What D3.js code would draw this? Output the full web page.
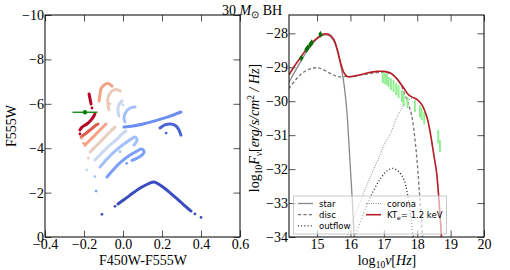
<!DOCTYPE html>
<html>
<head>
<meta charset="utf-8">
<script src="https://cdn.jsdelivr.net/npm/d3@7"></script>
<style>
  body { margin: 0; background: #fff; }
  text { font-family: "Liberation Serif", serif; fill: #000; }
  .leg text { font-family: "DejaVu Sans", sans-serif; }
</style>
</head>
<body>
<svg id="fig" width="510" height="270"></svg>
<script>
// ---- left panel: colour-magnitude tracks, [F450W-F555W, F555W]
const darkRedA = [[-0.174,-6.44],[-0.169,-6.22],[-0.164,-5.99]];
const darkRedB = [[-0.144,-5.54],[-0.159,-5.32],[-0.185,-5.09],[-0.210,-4.95],[-0.221,-4.82]];
const redLower = [[-0.215,-4.50],[-0.195,-4.64],[-0.169,-4.82],[-0.144,-5.00],[-0.128,-5.09]];
const orangeUpper = [[-0.056,-6.80],[-0.077,-6.91],[-0.097,-6.85],[-0.113,-6.67],[-0.118,-6.40],[-0.123,-6.13]];
const orangeLower = [[-0.195,-4.14],[-0.169,-4.37],[-0.138,-4.64],[-0.108,-4.91],[-0.087,-5.09]];
const peachUpper = [[-0.015,-6.58],[-0.036,-6.64],[-0.062,-6.53],[-0.077,-6.26],[-0.077,-5.95],[-0.072,-5.72]];
const peachLower = [[-0.169,-3.83],[-0.138,-4.10],[-0.103,-4.41],[-0.067,-4.73],[-0.041,-4.95]];
const paleUpper = [[-0.005,-6.13],[-0.021,-5.95],[-0.026,-5.72],[-0.021,-5.45]];
const paleLower = [[-0.144,-3.47],[-0.113,-3.74],[-0.072,-4.10],[-0.031,-4.41],[0.000,-4.68],[0.015,-4.77]];
const lightUpper = [[0.062,-5.86],[0.036,-5.81],[0.015,-5.63],[0.005,-5.36],[0.010,-5.18]];
const lightLower = [[-0.118,-3.15],[-0.087,-3.47],[-0.041,-3.87],[0.005,-4.19],[0.041,-4.41],[0.062,-4.50],[0.072,-4.37],[0.056,-4.14]];
const blueLower = [[-0.082,-2.70],[-0.051,-3.02],[-0.010,-3.38],[0.036,-3.69],[0.072,-3.87],[0.097,-3.96],[0.108,-3.83],[0.092,-3.65],[0.062,-3.51],[0.046,-3.45]];
const blueLong = [[0.005,-4.95],[0.051,-5.00],[0.103,-5.09],[0.164,-5.23],[0.231,-5.41],[0.297,-5.63]];
const navyHook = [[0.190,-4.91],[0.215,-5.05],[0.246,-5.09],[0.272,-5.00],[0.287,-4.82],[0.297,-4.59]];
const navyArch = [[-0.026,-1.49],[0.010,-1.71],[0.051,-1.98],[0.097,-2.25],[0.138,-2.43],[0.159,-2.48],[0.190,-2.34],[0.231,-2.07],[0.272,-1.76],[0.313,-1.44],[0.349,-1.17]];

// stray points and the track group each belongs to
const strayDots = [[-0.108,-1.02],[-0.041,-1.38],[0.369,-1.04],[0.400,-0.88],[-0.138,-2.07],[-0.144,-2.72],
  [-0.186,-3.02],[-0.178,-3.55],[-0.203,-4.22],[-0.212,-4.45],[0.221,-4.68],[0.097,-5.07],[-0.015,-3.84],
  [0.019,-3.32],[-0.159,-5.81],[-0.067,-6.00],[-0.221,-4.64],[0.000,-5.95]];
const strayGroup = [11,11,11,11,8,7,6,5,3,2,10,9,7,8,0,4,0,6];

// observed point in the left panel: colour, magnitude, colour error
const obsColour = [-0.195];
const obsMag = [-5.62];
const obsColourErr = [0.064];

// ---- right panel: SED components, [log10 nu, log10 F_nu]
const starSed = [[14.16,-29.44],[14.5,-28.85],[14.75,-28.45],[15.0,-28.17],[15.2,-28.05],[15.35,-28.06],[15.5,-28.22],
  [15.6,-28.5],[15.7,-28.9],[15.79,-29.38],[15.89,-30.26],[15.94,-31.0],[16.0,-32.0],[16.06,-33.0],[16.11,-34.0]];
const discSed = [[14.16,-29.63],[14.5,-29.22],[14.84,-29.03],[15.09,-29.03],[15.39,-29.18],[15.64,-29.28],[15.84,-29.27],
  [16.0,-29.27],[16.5,-29.2],[17.0,-29.15],[17.3,-29.24],[17.5,-29.5],[17.65,-29.85],[17.75,-30.12],[17.85,-30.5],
  [17.93,-31.1],[18.0,-31.8],[18.08,-32.9],[18.16,-34.0]];
const outflowSed = [[16.12,-34.0],[16.3,-33.55],[16.5,-33.05],[16.7,-32.62],[16.9,-32.28],[17.1,-32.05],[17.27,-31.98],
  [17.45,-32.08],[17.6,-32.3],[17.7,-32.7],[17.78,-33.2],[17.85,-33.75],[17.88,-34.0]];
const coronaSed = [[15.89,-34.0],[16.1,-33.45],[16.3,-32.95],[16.5,-32.45],[16.7,-32.0],[16.9,-31.55],[17.0,-31.3],
  [17.2,-30.95],[17.4,-30.45],[17.6,-30.12],[17.75,-29.96],[17.9,-29.91],[18.0,-29.96],[18.15,-30.13],[18.3,-30.52],
  [18.4,-31.0],[18.5,-31.62],[18.58,-32.12],[18.65,-32.92],[18.72,-33.92]];
const totalSed = [[14.16,-29.22],[14.3,-29.0],[14.5,-28.72],[14.75,-28.38],[15.0,-28.14],[15.2,-28.02],[15.35,-28.03],
  [15.5,-28.18],[15.6,-28.45],[15.7,-28.85],[15.8,-29.15],[15.9,-29.27],[16.0,-29.28],[16.25,-29.23],[16.5,-29.17],
  [16.8,-29.12],[17.0,-29.12],[17.2,-29.17],[17.4,-29.35],[17.6,-29.62],[17.75,-29.82],[17.9,-29.9],[18.0,-29.95],
  [18.15,-30.12],[18.3,-30.5],[18.4,-30.98],[18.5,-31.6],[18.58,-32.1],[18.65,-32.9],[18.72,-33.9],[18.73,-34.1]];

// optical photometry
const optNu = [14.53, 14.68, 14.72, 14.80, 14.84, 15.10];
const optF = [-28.73, -28.48, -28.43, -28.33, -28.28, -28.03];
const optErr = [0.06, 0.06, 0.06, 0.06, 0.06, 0.05];

// X-ray spectrum bins (low / high ends)
const xrayNu = [16.97, 17.04, 17.09, 17.14, 17.21, 17.29, 17.37, 17.44, 17.54, 17.59, 17.71, 17.93, 18.08, 18.13, 18.21, 18.63, 18.68];
const xrayLo = [-29.47, -29.50, -29.52, -29.58, -29.67, -29.73, -29.82, -29.91, -30.03, -30.14, -30.20, -30.32, -30.47, -30.56, -30.68, -31.24, -31.50];
const xrayHi = [-29.13, -29.17, -29.20, -29.28, -29.32, -29.38, -29.47, -29.53, -29.67, -29.76, -29.88, -29.97, -30.12, -30.20, -30.32, -30.85, -31.15];

const legendLabels = ['star', 'disc', 'outflow', 'corona', 'KT'];

// ---- figure
const svg = d3.select('#fig');

// left panel scales
let xL = d3.scaleLinear().domain([-0.4, 0.6]).range([45, 240]),
    yL = d3.scaleLinear().domain([0, -10]).range([237, 15]);

// right panel scales
let xR = d3.scaleLinear().domain([14.16, 20]).range([289, 484]),
    yR = d3.scaleLinear().domain([-34, -27.46]).range([237, 15]);

// track colours (coolwarm, red -> blue)
const palette = ['#b40426', '#dc5d4a', '#f4a283', '#f5a283', '#ebcab8', '#ebcdbd', '#c9d7f0', '#a2c0fd', '#7b9ff9', '#6c8ff1', '#4b64d5', '#3b4cc0'];
const tracks = [
  {pts: darkRedA, c: 0}, {pts: darkRedB, c: 0}, {pts: redLower, c: 1},
  {pts: orangeUpper, c: 3}, {pts: orangeLower, c: 2},
  {pts: peachUpper, c: 4}, {pts: peachLower, c: 5},
  {pts: paleUpper, c: 6}, {pts: paleLower, c: 6},
  {pts: lightUpper, c: 7}, {pts: lightLower, c: 7},
  {pts: blueLower, c: 8}, {pts: blueLong, c: 9},
  {pts: navyHook, c: 10}, {pts: navyArch, c: 11}
];

function frame(xs, ys, xTicks, yTicks, xFmt, yFmt) {
  let g = svg.append('g');
  let x0 = xs.range()[0], x1 = xs.range()[1], y0 = ys.range()[0], y1 = ys.range()[1];
  // bottom, top, left, right ticks (inward)
  g.append('g').attr('transform', `translate(0,${y0})`)
    .call(d3.axisBottom(xs).tickValues(xTicks).tickSize(-6.5).tickSizeOuter(0).tickPadding(2).tickFormat(xFmt));
  g.append('g').attr('transform', `translate(0,${y1})`)
    .call(d3.axisTop(xs).tickValues(xTicks).tickSize(-6.5).tickSizeOuter(0).tickFormat(''));
  g.append('g').attr('transform', `translate(${x0},0)`)
    .call(d3.axisLeft(ys).tickValues(yTicks).tickSize(-6.5).tickSizeOuter(0).tickPadding(1).tickFormat(yFmt));
  g.append('g').attr('transform', `translate(${x1},0)`)
    .call(d3.axisRight(ys).tickValues(yTicks).tickSize(-6.5).tickSizeOuter(0).tickFormat(''));
  g.selectAll('.domain').remove();
  g.selectAll('.tick line').attr('stroke', '#555');
  g.selectAll('.tick text').style('font-size', '14px').style('font-family', '"Liberation Serif", serif');
  g.append('rect').attr('x', x0).attr('y', y1).attr('width', x1 - x0).attr('height', y0 - y1)
    .attr('fill', 'none').attr('stroke', '#000').attr('stroke-width', 1);
  return g;
}

// ---- left panel marks
let trackLine = d3.line().x(d => xL(d[0])).y(d => yL(d[1])).curve(d3.curveCatmullRom);
svg.append('g').selectAll('path')
  .data(tracks)
  .enter().append('path')
    .attr('d', d => trackLine(d.pts))
    .attr('fill', 'none')
    .attr('stroke', d => palette[d.c])
    .attr('stroke-width', 3)
    .attr('stroke-linecap', 'round')
    .attr('stroke-linejoin', 'round');

svg.append('g').selectAll('circle')
  .data(strayDots)
  .enter().append('circle')
    .attr('cx', d => xL(d[0]))
    .attr('cy', d => yL(d[1]))
    .attr('r', 1.4)
    .attr('fill', (d, i) => palette[strayGroup[i]]);

let obs = svg.append('g');
obs.selectAll('line')
  .data(obsColour)
  .enter().append('line')
    .attr('x1', (d, i) => xL(d - obsColourErr[i]))
    .attr('x2', (d, i) => xL(d + obsColourErr[i]))
    .attr('y1', (d, i) => yL(obsMag[i]))
    .attr('y2', (d, i) => yL(obsMag[i]))
    .attr('stroke', '#008000').attr('stroke-width', 1.3);
obs.selectAll('circle')
  .data(obsColour)
  .enter().append('circle')
    .attr('cx', d => xL(d))
    .attr('cy', (d, i) => yL(obsMag[i]))
    .attr('r', 2.2).attr('fill', '#008000');

frame(xL, yL, [-0.4, -0.2, 0, 0.2, 0.4, 0.6], [-10, -8, -6, -4, -2, 0], d3.format('.1f'), d3.format('d'));

// ---- right panel marks
svg.append('clipPath').attr('id', 'clipR')
  .append('rect').attr('x', 289).attr('y', 15).attr('width', 195).attr('height', 222);
let plotR = svg.append('g').attr('clip-path', 'url(#clipR)');
let sedLine = d3.line().x(d => xR(d[0])).y(d => yR(d[1])).curve(d3.curveCatmullRom);

plotR.append('path').attr('d', sedLine(outflowSed)).attr('fill', 'none')
  .attr('stroke', '#222').attr('stroke-width', 1.3).attr('stroke-dasharray', '1,2.2');
plotR.append('path').attr('d', sedLine(coronaSed)).attr('fill', 'none')
  .attr('stroke', '#888').attr('stroke-width', 1).attr('stroke-dasharray', '1,1.4');
plotR.append('path').attr('d', sedLine(discSed)).attr('fill', 'none')
  .attr('stroke', '#777').attr('stroke-width', 1.3).attr('stroke-dasharray', '3.2,2.2');
plotR.append('path').attr('d', sedLine(starSed)).attr('fill', 'none')
  .attr('stroke', '#888').attr('stroke-width', 1.3);

// x-ray bins
plotR.append('g').selectAll('line')
  .data(xrayNu)
  .enter().append('line')
    .attr('x1', d => xR(d)).attr('x2', d => xR(d))
    .attr('y1', (d, i) => yR(xrayLo[i])).attr('y2', (d, i) => yR(xrayHi[i]))
    .attr('stroke', '#90ee90').attr('stroke-width', 2);

plotR.append('path').attr('d', sedLine(totalSed)).attr('fill', 'none')
  .attr('stroke', '#b81c24').attr('stroke-width', 1.6);

// optical points
let opt = plotR.append('g');
opt.selectAll('line')
  .data(optNu)
  .enter().append('line')
    .attr('x1', d => xR(d)).attr('x2', d => xR(d))
    .attr('y1', (d, i) => yR(optF[i] - optErr[i])).attr('y2', (d, i) => yR(optF[i] + optErr[i]))
    .attr('stroke', '#006400').attr('stroke-width', 1);
opt.selectAll('path')
  .data(optNu)
  .enter().append('path')
    .attr('d', d3.symbol(d3.symbolDiamond, 14))
    .attr('transform', (d, i) => `translate(${xR(d)},${yR(optF[i])})`)
    .attr('fill', '#007000');

frame(xR, yR, [15, 16, 17, 18, 19, 20], [-34, -33, -32, -31, -30, -29, -28], d3.format('d'), d3.format('d'));

// legend
let leg = svg.append('g').attr('class', 'leg');
leg.append('rect').attr('x', 293.5).attr('y', 196).attr('width', 153).attr('height', 38)
  .attr('fill', '#fff').attr('fill-opacity', 0.6).attr('stroke', '#bbb').attr('stroke-width', 0.8);
const legStyle = [
  {stroke: '#888', w: 1.3, dash: null},
  {stroke: '#777', w: 1.3, dash: '3.2,2.2'},
  {stroke: '#222', w: 1.3, dash: '1,2.2'},
  {stroke: '#888', w: 1, dash: '1,1.4'},
  {stroke: '#b81c24', w: 1.6, dash: null}
];
let item = leg.selectAll('.item')
  .data(legendLabels)
  .enter().append('g')
    .attr('class', 'item')
    .attr('transform', (d, i) => {
      let col = i < 3 ? 0 : 1, row = i < 3 ? i : i - 3;
      return `translate(${298 + col * 68},${203.5 + row * 11.2})`;
    });
item.append('line')
  .attr('x1', 0).attr('x2', 15).attr('y1', 0).attr('y2', 0)
  .attr('stroke', (d, i) => legStyle[i].stroke)
  .attr('stroke-width', (d, i) => legStyle[i].w)
  .attr('stroke-dasharray', (d, i) => legStyle[i].dash);
let legText = item.append('text')
  .attr('x', 21).attr('y', 3)
  .style('font-size', '8.5px')
  .text(d => d);
legText.filter((d, i) => i === 4).each(function() {
  let t = d3.select(this);
  t.append('tspan').attr('dy', 2).style('font-size', '6px').text('e');
  t.append('tspan').attr('dy', -2).text('= 1.2 keV');
});

// titles and axis labels
svg.append('text').attr('x', 222).attr('y', 15).style('font-size', '14px')
  .call(t => {
    t.append('tspan').text('30 ');
    t.append('tspan').style('font-style', 'italic').text('M');
    t.append('tspan').attr('dy', 3).style('font-size', '9.5px').text('⊙');
    t.append('tspan').attr('dy', -3).text(' BH');
  });

svg.append('text').attr('x', 143).attr('y', 264.5).attr('text-anchor', 'middle')
  .style('font-size', '14px').text('F450W-F555W');
svg.append('text').attr('transform', 'translate(16,126) rotate(-90)').attr('text-anchor', 'middle')
  .style('font-size', '14px').text('F555W');

svg.append('text').attr('x', 387).attr('y', 264.5).attr('text-anchor', 'middle').style('font-size', '14px')
  .call(t => {
    t.append('tspan').text('log');
    t.append('tspan').attr('dy', 3).style('font-size', '9.5px').text('10');
    t.append('tspan').attr('dy', -3).style('font-style', 'italic').text('ν');
    t.append('tspan').text('[');
    t.append('tspan').style('font-style', 'italic').text('Hz');
    t.append('tspan').text(']');
  });

svg.append('text').attr('transform', 'translate(259,128) rotate(-90)').attr('text-anchor', 'middle').style('font-size', '14px')
  .call(t => {
    t.append('tspan').text('log');
    t.append('tspan').attr('dy', 3).style('font-size', '9.5px').text('10');
    t.append('tspan').attr('dy', -3).style('font-style', 'italic').text('F');
    t.append('tspan').attr('dy', 3).style('font-size', '9.5px').style('font-style', 'italic').text('ν');
    t.append('tspan').attr('dy', -3).text('[');
    t.append('tspan').style('font-style', 'italic').text('erg/s/cm');
    t.append('tspan').attr('dy', -5).style('font-size', '9.5px').text('2');
    t.append('tspan').attr('dy', 5).style('font-style', 'italic').text(' / Hz');
    t.append('tspan').text(']');
  });
</script>
</body>
</html>
